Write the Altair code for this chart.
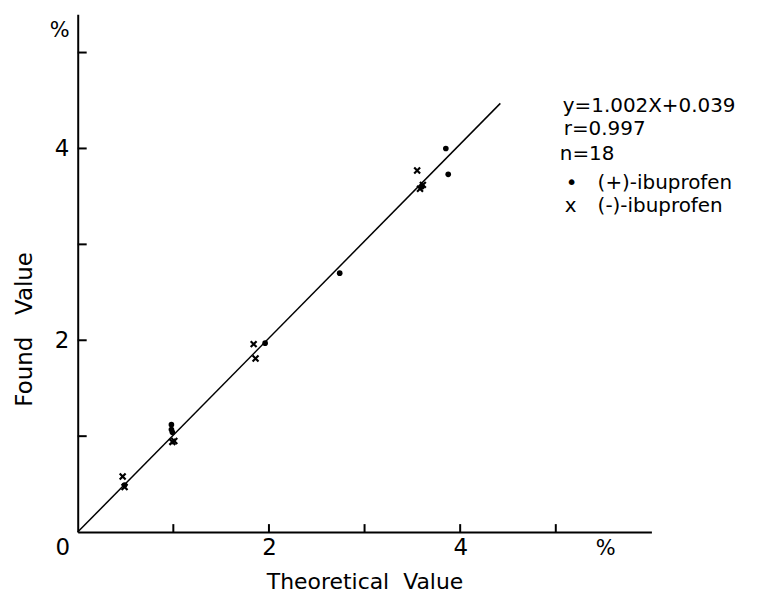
import altair as alt
import pandas as pd

# (+)-ibuprofen (dots)
plus_x = [3.85, 3.875, 2.74, 1.96, 0.98, 0.98, 0.99, 0.49, 3.60]
plus_y = [4.00, 3.73, 2.70, 1.97, 1.07, 1.12, 1.04, 0.49, 3.60]
# (-)-ibuprofen (x)
minus_x = [3.55, 3.58, 3.61, 1.84, 1.86, 0.99, 1.01, 0.47, 0.49]
minus_y = [3.77, 3.58, 3.62, 1.96, 1.81, 0.94, 0.95, 0.58, 0.47]
# regression line end points
line_x = [0.0, 4.42]
line_y = [0.0, 4.47]
tick_vals = [1, 2, 3, 4, 5]
x_labels = [2, 4]
y_labels = [2, 4]
legend_lines = ["y=1.002X+0.039", "r=0.997", "n=18"]
series_names = ["(+)-ibuprofen", "(-)-ibuprofen"]

W, H = 576, 520
FONT = "DejaVu Sans"
xs = alt.Scale(domain=[0, 6], nice=False, zero=False)
ys = alt.Scale(domain=[0, 5.4], nice=False, zero=False)

plus_df = pd.DataFrame({"x": plus_x, "y": plus_y})
minus_df = pd.DataFrame({"x": minus_x, "y": minus_y})
line_df = pd.DataFrame({"x": line_x, "y": line_y})
ticks_df = pd.DataFrame({"v": tick_vals})

xaxis = alt.Axis(values=x_labels, format="d", ticks=False, grid=False, domain=True,
                 domainColor="black", domainWidth=2, labelFontSize=23,
                 labelFont=FONT, labelColor="black", labelPadding=5,
                 title="Theoretical\u00a0\u00a0Value", titleFont=FONT,
                 titleFontSize=22, titleFontWeight="normal", titleColor="black",
                 titlePadding=12)
yaxis = alt.Axis(values=y_labels, format="d", ticks=False, grid=False, domain=True,
                 domainColor="black", domainWidth=2, labelFontSize=23,
                 labelFont=FONT, labelColor="black", labelPadding=9,
                 title="Found\u00a0\u00a0\u00a0Value", titleFont=FONT,
                 titleFontSize=23, titleFontWeight="normal", titleColor="black",
                 titleX=-53, titleY=316, titleAlign="center", titleBaseline="middle")

base_line = alt.Chart(line_df).mark_line(color="black", strokeWidth=1.5).encode(
    x=alt.X("x:Q", scale=xs, axis=xaxis),
    y=alt.Y("y:Q", scale=ys, axis=yaxis),
)

dots = alt.Chart(plus_df).mark_point(filled=True, color="black", size=32, opacity=1).encode(
    x=alt.X("x:Q", scale=xs), y=alt.Y("y:Q", scale=ys))

crosses = alt.Chart(minus_df).mark_point(
    shape="M-1,-1L1,1M-1,1L1,-1", filled=False, color="black",
    strokeWidth=2.2, size=35, opacity=1).encode(
    x=alt.X("x:Q", scale=xs), y=alt.Y("y:Q", scale=ys))

xticks = alt.Chart(ticks_df).mark_rule(color="black", strokeWidth=2).encode(
    x=alt.X("v:Q", scale=xs), y=alt.value(H), y2=alt.value(H - 8))
yticks = alt.Chart(ticks_df).mark_rule(color="black", strokeWidth=2).encode(
    y=alt.Y("v:Q", scale=ys), x=alt.value(0), x2=alt.value(9))

def txt(t, x, y, size=20, align="left"):
    return alt.Chart(pd.DataFrame({"t": [t]})).mark_text(
        font=FONT, fontSize=size, color="black", align=align, baseline="middle"
    ).encode(text="t:N", x=alt.value(x), y=alt.value(y))

ann = [
    txt(legend_lines[0], 487, 92),
    txt(legend_lines[1], 488, 115),
    txt(legend_lines[2], 484, 140),
    txt("\u2022", 490, 170),
    txt(series_names[0], 522, 170),
    txt("x", 489, 193),
    txt(series_names[1], 522, 193),
    txt("%", -18, 17, size=21, align="center"),
    txt("%", 530, 537, size=21, align="center"),
    txt("0", -15, 536, size=23, align="center"),
]

chart = alt.layer(base_line, xticks, yticks, dots, crosses, *ann).properties(
    width=W, height=H,
    autosize=alt.AutoSizeParams(type="none"),
    padding={"left": 70, "top": 5, "right": 100, "bottom": 70},
).configure(background="white").configure_view(strokeWidth=0, stroke="transparent")

chart.save("out.html", embed_options={"renderer": "svg", "actions": False})
